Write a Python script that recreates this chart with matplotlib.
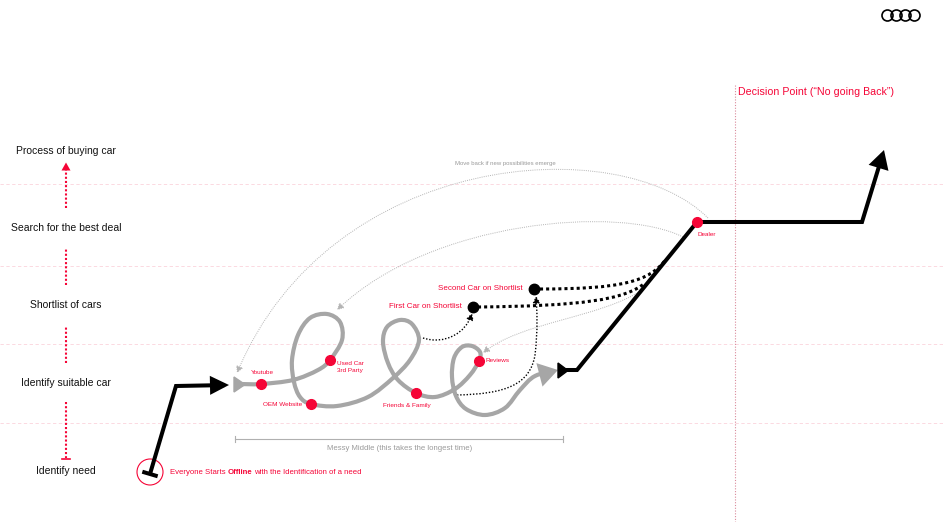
import matplotlib

matplotlib.use("Agg")
import matplotlib.pyplot as plt
import numpy as np
from matplotlib.patches import Circle, FancyArrowPatch, Polygon
from matplotlib.path import Path

plt.rcParams["font.family"] = ["Liberation Sans", "DejaVu Sans"]

RED = "#f50537"
GREY = "#a6a6a6"
LIGHT = "#b4b4b4"

# ---------------------------------------------------------------------------
# content (canvas is laid out in pixels, y pointing down)
# ---------------------------------------------------------------------------
STAGES = ["Process of buying car", "Search for the best deal", "Shortlist of cars",
          "Identify suitable car", "Identify need"]
STAGE_Y = [151, 228, 305, 383, 471]
BAND_Y = [184, 266, 344, 423]
STAGE_LINKS = [(208, 170), (285, 248), (363, 326), (402, 458)]

TOUCH_NAMES = ["Youtube", "Used Car\n3rd Party", "OEM Website", "Friends & Family", "Reviews", "Dealer"]
TOUCH_X = [261, 330, 311, 416, 479, 697]
TOUCH_Y = [384, 360, 404, 393, 361, 222]

SHORTLIST = ["First Car on Shortlist", "Second Car on Shortlist"]
SHORT_X = [473, 534]
SHORT_Y = [307, 289]

START_NOTE = [("Everyone Starts", "normal"), ("Offline", "bold"),
              ("with the Identification of a need", "normal")]

# the messy middle scribble
MESSY_X = [240, 261, 293, 318, 330, 342, 340, 327, 310, 298, 292, 294, 300, 311, 337, 368, 393, 410,
           419, 412, 400, 387, 383, 388, 398, 416, 435, 455, 470, 479, 480, 472, 462, 454, 452, 456,
           466, 485, 505, 520, 535, 558]
MESSY_Y = [384, 384, 380, 370, 360, 340, 322, 314, 318, 335, 360, 382, 397, 404, 406, 397, 378, 360,
           340, 324, 320, 327, 342, 363, 380, 393, 397, 389, 375, 361, 352, 346, 347, 358, 377, 396,
           409, 415, 408, 390, 376, 370]

# black journey line
START_X = [150, 176, 229]
START_Y = [474, 386, 385]
END_X = [566, 577, 697, 862, 884]
END_Y = [370, 370, 222, 222, 150]

DECISION_X = 735


def smooth_path(xs, ys):
    pts = np.column_stack([xs, ys]).astype(float)
    ext = np.vstack([pts[0], pts, pts[-1]])
    verts = [pts[0]]
    codes = [Path.MOVETO]
    for i in range(1, len(ext) - 2):
        p0, p1, p2, p3 = ext[i - 1], ext[i], ext[i + 1], ext[i + 2]
        verts += [p1 + (p2 - p0) / 6, p2 - (p3 - p1) / 6, p2]
        codes += [Path.CURVE4] * 3
    return Path(verts, codes)


def bezier(*pts):
    return Path(pts, [Path.MOVETO] + [Path.CURVE4] * (len(pts) - 1))


def arrow(ax, path, color, lw, ls="-", style="-|>", hl=4, hw=2, z=2):
    a = FancyArrowPatch(path=path, arrowstyle=f"{style},head_length={hl},head_width={hw}",
                        color=color, lw=lw, linestyle=ls, mutation_scale=1,
                        joinstyle="miter", capstyle="butt", zorder=z)
    ax.add_patch(a)


fig = plt.figure(figsize=(9.43, 5.22), dpi=100)
ax = fig.add_axes([0, 0, 1, 1])
ax.set_xlim(0, 943)
ax.set_ylim(522, 0)
ax.axis("off")

# bands
for y in BAND_Y:
    ax.plot([0, 943], [y, y], color="#fbd3dc", lw=0.6, ls=(0, (4, 3)), zorder=0)

# stage column
for name, y in zip(STAGES, STAGE_Y):
    ax.text(66, y, name, ha="center", va="center", fontsize=7.5, color="#111111")
for y0, y1 in STAGE_LINKS:
    ax.plot([66, 66], [y0, y1], color=RED, lw=1.5, ls=(0, (1, 1)))
ax.add_patch(Polygon([(61.5, 170.5), (70.5, 170.5), (66, 162.5)], closed=True, color=RED, lw=0))
ax.plot([62, 70], [458.5, 458.5], color=RED, lw=1.2)

# decision point
ax.plot([DECISION_X, DECISION_X], [85, 522], color="#d98a9b", lw=0.8, ls=(0, (1, 1.5)))
ax.text(DECISION_X + 3, 92, "Decision Point (\u201cNo going Back\u201d)", ha="left", va="center",
        fontsize=7.7, color=RED)

# audi rings
for cx in [887.5, 896.5, 905.5, 914.5]:
    ax.add_patch(Circle((cx, 15.5), 5.5, fill=False, ec="black", lw=1.2))

# start: tee + first black arrow
arrow(ax, Path(list(zip(START_X, START_Y))), "black", 2.9, hl=9, hw=4.5, z=4)
d = np.array([START_X[1] - START_X[0], START_Y[1] - START_Y[0]], float)
d /= np.hypot(*d)
n = np.array([-d[1], d[0]]) * 8
p = np.array([START_X[0], START_Y[0]], float)
ax.plot([p[0] - n[0], p[0] + n[0]], [p[1] - n[1], p[1] + n[1]], color="black", lw=2.9,
        solid_capstyle="butt", zorder=4)
ax.add_patch(Circle((150, 472), 13, fill=False, ec=RED, lw=0.8))

fig.canvas.draw()
renderer = fig.canvas.get_renderer()
x = 170
for part, weight in START_NOTE:
    t = ax.text(x, 472, part, ha="left", va="center", fontsize=5.6, color=RED, fontweight=weight)
    bb = t.get_window_extent(renderer)
    x = ax.transData.inverted().transform((bb.x1, bb.y0))[0] + 1.8

# messy middle
arrow(ax, smooth_path(MESSY_X, MESSY_Y), GREY, 3, hl=9.5, hw=6, z=3)
ax.add_patch(Polygon([(234, 377), (234, 392), (245, 384.5)], closed=True, color=GREY, zorder=3))
ax.plot([235, 563], [439, 439], color="#b0b0b0", lw=0.8)
for x in [235, 563]:
    ax.plot([x, x], [436, 442], color="#b0b0b0", lw=0.8)
ax.text(400, 449, "Messy Middle (this takes the longest time)", ha="center", va="center",
        fontsize=5.6, color="#9a9a9a")

# black line to decision and beyond
ax.add_patch(Polygon([(558, 363), (558, 378), (568, 370.5)], closed=True, color="black", zorder=4))
arrow(ax, Path(list(zip(END_X, END_Y))), "black", 2.9, hl=9, hw=5, z=4)

# move-back arcs
arrow(ax, bezier((708, 218), (620, 130), (330, 150), (237, 373)), LIGHT, 0.7, ls=(0, (1, 1.2)),
      hl=4, hw=2.2, z=1)
ax.text(505, 164, "Move back if new possibilities emerge", ha="center", va="center",
        fontsize=4.3, color="#9a9a9a")
arrow(ax, bezier((683, 237), (620, 205), (430, 220), (337, 310)), LIGHT, 0.7, ls=(0, (1, 1.2)),
      hl=4, hw=2.2, z=1)
arrow(ax, bezier((642, 290), (600, 318), (520, 322), (483, 353)), LIGHT, 0.7, ls=(0, (1, 1.2)),
      hl=4, hw=2.2, z=1)

# shortlist links
arrow(ax, bezier((423, 338), (445, 345), (466, 333), (472, 313)), "black", 1, ls=(0, (1, 1.3)),
      hl=4, hw=2.2, z=2)
arrow(ax, Path([(457, 395), (505, 394), (530, 385), (535, 355), (538, 330), (537, 310), (536, 296)],
               [Path.MOVETO] + [Path.CURVE4] * 6), "black", 1, ls=(0, (1, 1.3)), hl=4, hw=2.2, z=2)
ax.plot(*bezier((478, 307), (580, 306), (625, 300), (645, 283)).to_polygons(closed_only=False)[0].T,
        color="black", lw=2.2, ls=(0, (1, 1)), zorder=2)
ax.plot(*bezier((540, 289), (620, 289), (650, 282), (666, 259)).to_polygons(closed_only=False)[0].T,
        color="black", lw=2.2, ls=(0, (1, 1)), zorder=2)

for name, x, y in zip(SHORTLIST, SHORT_X, SHORT_Y):
    ax.plot(x, y, "o", color="black", ms=7.5, zorder=6)
    ax.text(x - 11, y, name, ha="right", va="center", fontsize=5.8, color=RED)

# touchpoints
ax.plot(TOUCH_X, TOUCH_Y, "o", color=RED, ms=7, ls="none", zorder=6)
label_at = [(262, 373, "center"), (337, 367, "left"), (302, 404, "right"),
            (407, 405, "center"), (486, 361, "left"), (698, 235, "left")]
for name, (x, y, ha) in zip(TOUCH_NAMES, label_at):
    ax.text(x, y, name, ha=ha, va="center", fontsize=4.6, color=RED, linespacing=1.5)

fig.savefig("out.png", dpi=100, facecolor="white")
